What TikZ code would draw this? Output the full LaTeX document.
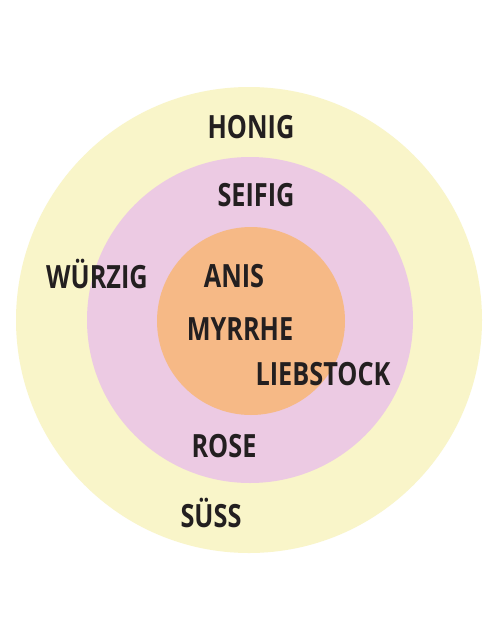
\documentclass[tikz,border=0pt]{standalone}
\usepackage{fontspec}
\newfontfamily\lblfont{Open Sans}[FakeStretch=0.79]
\definecolor{outerc}{HTML}{F9F5C9}
\definecolor{midc}{HTML}{ECCAE3}
\definecolor{innerc}{HTML}{F6B986}
\definecolor{txtc}{HTML}{231F20}
\tikzset{
  ring/.style={draw=none},
  lbl/.style={anchor=base, inner sep=0pt, text=txtc, font=\lblfont\bfseries\fontsize{32}{32}\selectfont}
}
\begin{document}
\begin{tikzpicture}[x=1pt,y=-1pt]
\useasboundingbox (0,0) rectangle (500,640);
\fill[white] (0,0) rectangle (500,640);
\fill[outerc] (249,320) circle (233);
\fill[midc] (250,320) circle (163);
\fill[innerc] (251,321) circle (94);
\node[lbl] (honig) at (251,138) {HONIG};
\node[lbl] (seifig) at (256,206) {SEIFIG};
\node[lbl] (wurzig) at (97,288) {WÜRZIG};
\node[lbl] (anis) at (234,287) {ANIS};
\node[lbl] (myrrhe) at (240,340) {MYRRHE};
\node[lbl] (liebstock) at (323,385) {LIEBSTOCK};
\node[lbl] (rose) at (224,457) {ROSE};
\node[lbl] (suss) at (211,527) {SÜSS};
\end{tikzpicture}
\end{document}
